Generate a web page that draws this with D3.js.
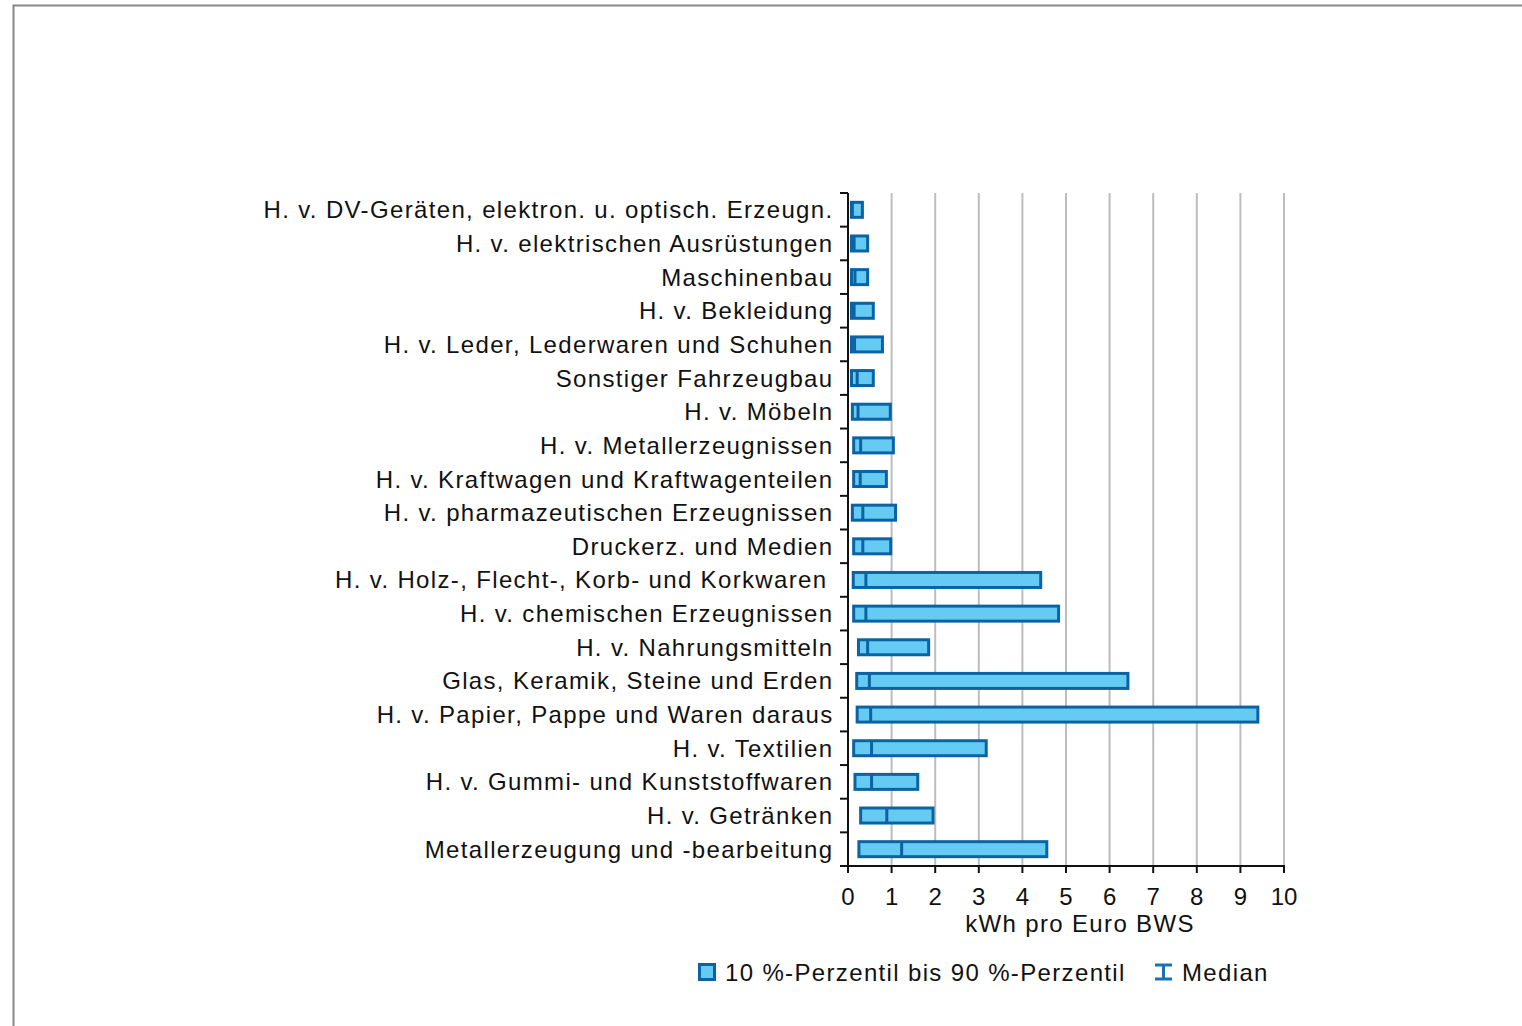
<!DOCTYPE html>
<html><head><meta charset="utf-8">
<script src="https://cdn.jsdelivr.net/npm/d3@7"></script>
<style>
html,body{margin:0;padding:0;background:#fff;}
svg{display:block;}
text{font-family:"Liberation Sans",Arial,sans-serif;fill:#111;}
</style></head>
<body>
<svg id="c" width="1522" height="1026"></svg>
<script>
const categories = [
  "H. v. DV-Geräten, elektron. u. optisch. Erzeugn.",
  "H. v. elektrischen Ausrüstungen",
  "Maschinenbau",
  "H. v. Bekleidung",
  "H. v. Leder, Lederwaren und Schuhen",
  "Sonstiger Fahrzeugbau",
  "H. v. Möbeln",
  "H. v. Metallerzeugnissen",
  "H. v. Kraftwagen und Kraftwagenteilen",
  "H. v. pharmazeutischen Erzeugnissen",
  "Druckerz. und Medien",
  "H. v. Holz-, Flecht-, Korb- und Korkwaren",
  "H. v. chemischen Erzeugnissen",
  "H. v. Nahrungsmitteln",
  "Glas, Keramik, Steine und Erden",
  "H. v. Papier, Pappe und Waren daraus",
  "H. v. Textilien",
  "H. v. Gummi- und Kunststoffwaren",
  "H. v. Getränken",
  "Metallerzeugung und -bearbeitung"
];
const p10    = [0.08,0.08,0.08,0.08,0.08,0.08,0.10,0.13,0.13,0.10,0.13,0.12,0.13,0.24,0.20,0.21,0.13,0.16,0.29,0.25];
const median = [0.10,0.14,0.16,0.14,0.15,0.21,0.23,0.29,0.28,0.34,0.34,0.41,0.41,0.45,0.49,0.52,0.54,0.54,0.89,1.23];
const p90    = [0.33,0.45,0.45,0.58,0.79,0.58,0.97,1.04,0.88,1.09,0.98,4.42,4.83,1.85,6.42,9.40,3.17,1.60,1.95,4.56];
const xTicks = [0,1,2,3,4,5,6,7,8,9,10];
const xTitle = "kWh pro Euro BWS";
const legendRange = "10 %-Perzentil bis 90 %-Perzentil";
const legendMedian = "Median";

const svg = d3.select("#c");
const dark = "#0b63a3", light = "#66cbf3", grid = "#bdbdbd";
const ls = "1.35px";

// frame
svg.append("path").attr("d","M13.5,1026 V5.5 H1522").attr("fill","none").attr("stroke","#888").attr("stroke-width",2);

const x = d3.scaleLinear().domain([0,10]).range([848,1284]);
const y = d3.scaleBand().domain(categories).range([193,866]).paddingInner(0).paddingOuter(0);
const bh = 15;

// grid
svg.append("g").selectAll("line").data(xTicks.filter(d=>d>0)).join("line")
  .attr("x1",d=>x(d)).attr("x2",d=>x(d)).attr("y1",193).attr("y2",866)
  .attr("stroke",grid).attr("stroke-width",2);

// bars
const g = svg.append("g");
categories.forEach((c,i)=>{
  const cy = y(c)+y.bandwidth()/2;
  g.append("rect").attr("x",x(p10[i])).attr("y",cy-bh/2)
    .attr("width",x(p90[i])-x(p10[i])).attr("height",bh)
    .attr("fill",light).attr("stroke",dark).attr("stroke-width",3);
  g.append("line").attr("x1",x(median[i])).attr("x2",x(median[i]))
    .attr("y1",cy-bh/2).attr("y2",cy+bh/2).attr("stroke",dark).attr("stroke-width",3);
});

// y axis
const ya = svg.append("g");
ya.append("line").attr("x1",848).attr("x2",848).attr("y1",193).attr("y2",867).attr("stroke","#111").attr("stroke-width",2);
d3.range(categories.length+1).forEach(k=>{
  const yy = 193 + k*y.step();
  ya.append("line").attr("x1",840).attr("x2",848).attr("y1",yy).attr("y2",yy).attr("stroke","#111").attr("stroke-width",2);
});
ya.selectAll("text").data(categories).join("text")
  .attr("x",d=> d.startsWith("H. v. Holz") ? 827.5 : 833.5)
  .attr("y",d=>y(d)+y.bandwidth()/2+8.5)
  .attr("text-anchor","end").attr("font-size",24).attr("letter-spacing",ls)
  .text(d=>d);

// x axis
const xa = svg.append("g");
xa.append("line").attr("x1",847).attr("x2",1285).attr("y1",866).attr("y2",866).attr("stroke","#111").attr("stroke-width",2);
xa.selectAll("line.t").data(xTicks).join("line").attr("class","t")
  .attr("x1",d=>x(d)).attr("x2",d=>x(d)).attr("y1",866).attr("y2",873).attr("stroke","#111").attr("stroke-width",2);
xa.selectAll("text").data(xTicks).join("text")
  .attr("x",d=>x(d)).attr("y",905).attr("text-anchor","middle").attr("font-size",24)
  .text(d=>d);
svg.append("text").attr("x",1080).attr("y",932).attr("text-anchor","middle").attr("font-size",24).attr("letter-spacing",ls).text(xTitle);

// legend
svg.append("rect").attr("x",699.5).attr("y",964.5).attr("width",15).attr("height",15)
  .attr("fill",light).attr("stroke",dark).attr("stroke-width",3);
svg.append("text").attr("x",725).attr("y",981).attr("font-size",24).attr("letter-spacing",ls).text(legendRange);
svg.append("path").attr("d","M1155,965 H1172 M1163.5,965 V979 M1155,979 H1172")
  .attr("fill","none").attr("stroke","#1b70b3").attr("stroke-width",3);
svg.append("text").attr("x",1182).attr("y",981).attr("font-size",24).attr("letter-spacing",ls).text(legendMedian);
</script>
</body></html>
